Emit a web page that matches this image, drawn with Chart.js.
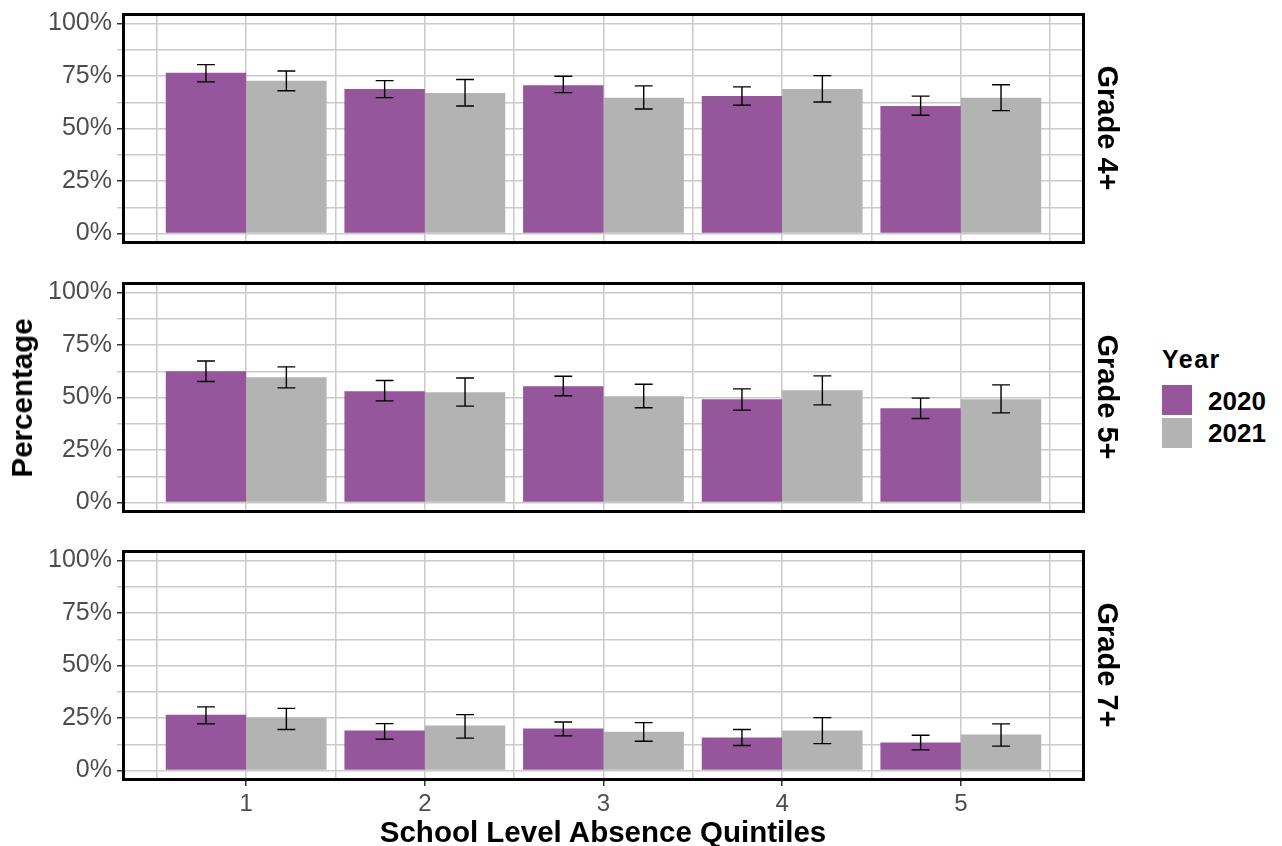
<!DOCTYPE html>
<html>
<head>
<meta charset="utf-8">
<script src="https://cdn.jsdelivr.net/npm/chart.js@4"></script>
<style>
  body { margin: 0; background: #fff; font-family: "Liberation Sans", Arial, sans-serif; }
  #page { position: relative; width: 1282px; height: 846px; overflow: hidden; }
  .panel { position: absolute; left: 0; width: 1100px; }
  .txt { position: absolute; white-space: nowrap; color: #000; font-weight: bold; }
  .rot { transform: translate(-50%, -50%) rotate(-90deg); }
  .strip { transform: translate(-50%, -50%) rotate(90deg); font-size: 29px; line-height: 29px; }
  .key { position: absolute; width: 30px; height: 30px; }
</style>
</head>
<body>
<div id="page">
  <div class="panel" style="top:3px;height:251px"><canvas id="c0"></canvas></div>
  <div class="panel" style="top:272px;height:251px"><canvas id="c1"></canvas></div>
  <div class="panel" style="top:540px;height:281px"><canvas id="c2"></canvas></div>

  <div class="txt rot" style="left:22px;top:398px;font-size:29.5px;line-height:30px">Percentage</div>
  <div class="txt" style="left:603px;top:817px;font-size:29.5px;line-height:30px;transform:translateX(-50%)">School Level Absence Quintiles</div>

  <div class="txt strip" style="left:1107px;top:128px">Grade 4+</div>
  <div class="txt strip" style="left:1107px;top:397px">Grade 5+</div>
  <div class="txt strip" style="left:1107px;top:665px">Grade 7+</div>

  <div class="txt" style="left:1162px;top:347px;font-size:25px;line-height:25px;letter-spacing:1.5px">Year</div>
  <div class="key" style="left:1162px;top:385px;background:#95569b"></div>
  <div class="key" style="left:1162px;top:418px;background:#b3b3b3"></div>
  <div class="txt" style="left:1208px;top:389px;font-size:26px;line-height:25px">2020</div>
  <div class="txt" style="left:1208px;top:421px;font-size:26px;line-height:25px">2021</div>
</div>

<script>
const QUINTILES = [1, 2, 3, 4, 5];
const YEARS = ['2020', '2021'];
const GRADES = ['Grade 4+', 'Grade 5+', 'Grade 7+'];
const Y_BREAKS = [0, 0.125, 0.25, 0.375, 0.5, 0.625, 0.75, 0.875, 1];
const X_MINOR = [0.5, 1.5, 2.5, 3.5, 4.5, 5.5];

// Grade 4+
const G4_2020 = [0.765, 0.688, 0.706, 0.655, 0.607];
const G4_2020_LO = [0.722, 0.647, 0.671, 0.611, 0.563];
const G4_2020_HI = [0.804, 0.728, 0.749, 0.698, 0.654];
const G4_2021 = [0.727, 0.669, 0.646, 0.688, 0.646];
const G4_2021_LO = [0.680, 0.607, 0.593, 0.626, 0.585];
const G4_2021_HI = [0.774, 0.733, 0.703, 0.752, 0.708];

// Grade 5+
const G5_2020 = [0.625, 0.530, 0.554, 0.492, 0.449];
const G5_2020_LO = [0.576, 0.484, 0.508, 0.440, 0.400];
const G5_2020_HI = [0.674, 0.581, 0.601, 0.541, 0.497];
const G5_2021 = [0.597, 0.525, 0.506, 0.535, 0.492];
const G5_2021_LO = [0.546, 0.459, 0.451, 0.465, 0.427];
const G5_2021_HI = [0.646, 0.593, 0.563, 0.603, 0.560];

// Grade 7+
const G7_2020 = [0.265, 0.190, 0.200, 0.157, 0.133];
const G7_2020_LO = [0.222, 0.149, 0.165, 0.119, 0.098];
const G7_2020_HI = [0.303, 0.223, 0.231, 0.195, 0.168];
const G7_2021 = [0.251, 0.214, 0.185, 0.190, 0.171];
const G7_2021_LO = [0.195, 0.154, 0.139, 0.128, 0.116];
const G7_2021_HI = [0.296, 0.266, 0.228, 0.252, 0.222];

const COLORS = ['#95569b', '#b3b3b3'];
const GRID = '#cacaca';
const TICK_TEXT = '#4d4d4d';

const panels = [
  { values: [G4_2020, G4_2021], lo: [G4_2020_LO, G4_2021_LO], hi: [G4_2020_HI, G4_2021_HI] },
  { values: [G5_2020, G5_2021], lo: [G5_2020_LO, G5_2021_LO], hi: [G5_2020_HI, G5_2021_HI] },
  { values: [G7_2020, G7_2021], lo: [G7_2020_LO, G7_2021_LO], hi: [G7_2020_HI, G7_2021_HI] }
];

// error bars drawn from the dataset's own lo/hi arrays through the scales
const errorBars = {
  id: 'errorBars',
  afterDatasetsDraw(chart) {
    const { ctx, scales: { x, y } } = chart;
    const half = x.getPixelForValue(1.05) - x.getPixelForValue(1);
    ctx.save();
    ctx.strokeStyle = '#000';
    ctx.lineWidth = 1.4;
    chart.data.datasets.forEach((ds, d) => {
      chart.getDatasetMeta(d).data.forEach((bar, i) => {
        const top = y.getPixelForValue(ds.hi[i]);
        const bot = y.getPixelForValue(ds.lo[i]);
        ctx.beginPath();
        ctx.moveTo(bar.x, top); ctx.lineTo(bar.x, bot);
        ctx.moveTo(bar.x - half, top); ctx.lineTo(bar.x + half, top);
        ctx.moveTo(bar.x - half, bot); ctx.lineTo(bar.x + half, bot);
        ctx.stroke();
      });
    });
    ctx.restore();
  }
};

// black panel frame like ggplot's panel.border
const frame = {
  id: 'frame',
  afterDraw(chart) {
    const { ctx, chartArea: a } = chart;
    ctx.save();
    ctx.strokeStyle = '#000';
    ctx.lineWidth = 3;
    ctx.strokeRect(a.left + 1.5, a.top + 1.5, a.right - a.left - 3, a.bottom - a.top - 3);
    ctx.restore();
  }
};

// keep the panel size fixed: no extra room for overhanging tick labels
const noPad = s => { s.paddingTop = 0; s.paddingBottom = 0; s.paddingLeft = 0; s.paddingRight = 0; };

function makePanel(canvasId, panel, isBottom) {
  const isMajor = v => Math.abs(v * 4 - Math.round(v * 4)) < 1e-6;
  return new Chart(document.getElementById(canvasId), {
    type: 'bar',
    data: {
      datasets: YEARS.map((yr, k) => ({
        label: yr,
        data: QUINTILES.map((q, i) => ({ x: q, y: panel.values[k][i] })),
        lo: panel.lo[k],
        hi: panel.hi[k],
        backgroundColor: COLORS[k],
        borderWidth: 0,
        categoryPercentage: 0.9,
        barPercentage: 1
      }))
    },
    options: {
      responsive: true,
      maintainAspectRatio: false,
      animation: false,
      layout: { padding: { top: 10, right: 15, left: 0, bottom: isBottom ? 0 : 10 } },
      plugins: { legend: { display: false }, tooltip: { enabled: false } },
      scales: {
        x: {
          type: 'linear',
          offset: false,
          min: 0.305,
          max: 5.695,
          afterBuildTicks: s => { s.ticks = QUINTILES.map(v => ({ value: v })); },
          afterFit: s => { s.height = isBottom ? 40 : 0; noPad(s); },
          border: { display: false },
          grid: { offset: false, color: GRID, lineWidth: 1.5, drawTicks: isBottom, tickLength: 5, tickColor: '#333' },
          ticks: {
            display: isBottom,
            autoSkip: false,
            maxRotation: 0,
            color: TICK_TEXT,
            padding: 4,
            font: { family: 'Liberation Sans', size: 24 },
            callback: v => String(v)
          }
        },
        xMinor: {
          type: 'linear',
          position: 'bottom',
          offset: false,
          min: 0.305,
          max: 5.695,
          afterBuildTicks: s => { s.ticks = X_MINOR.map(v => ({ value: v })); },
          afterFit: s => { s.height = 0; noPad(s); },
          border: { display: false },
          grid: { offset: false, color: GRID, lineWidth: 1.5, drawTicks: false },
          ticks: { display: false }
        },
        y: {
          min: -0.05,
          max: 1.05,
          afterBuildTicks: s => { s.ticks = Y_BREAKS.map(v => ({ value: v })); },
          afterFit: s => { s.width = 122; noPad(s); },
          border: { display: false },
          grid: {
            color: GRID,
            lineWidth: 1.5,
            tickLength: 5,
            tickColor: c => isMajor(c.tick.value) ? '#333' : GRID
          },
          ticks: {
            autoSkip: false,
            color: TICK_TEXT,
            padding: 5,
            font: { family: 'Liberation Sans', size: 25 },
            callback: v => isMajor(v) ? Math.round(v * 100) + '%' : ''
          }
        }
      }
    },
    plugins: [errorBars, frame]
  });
}

document.addEventListener('DOMContentLoaded', () => {
  panels.forEach((p, i) => makePanel('c' + i, p, i === panels.length - 1));
});
</script>
</body>
</html>
